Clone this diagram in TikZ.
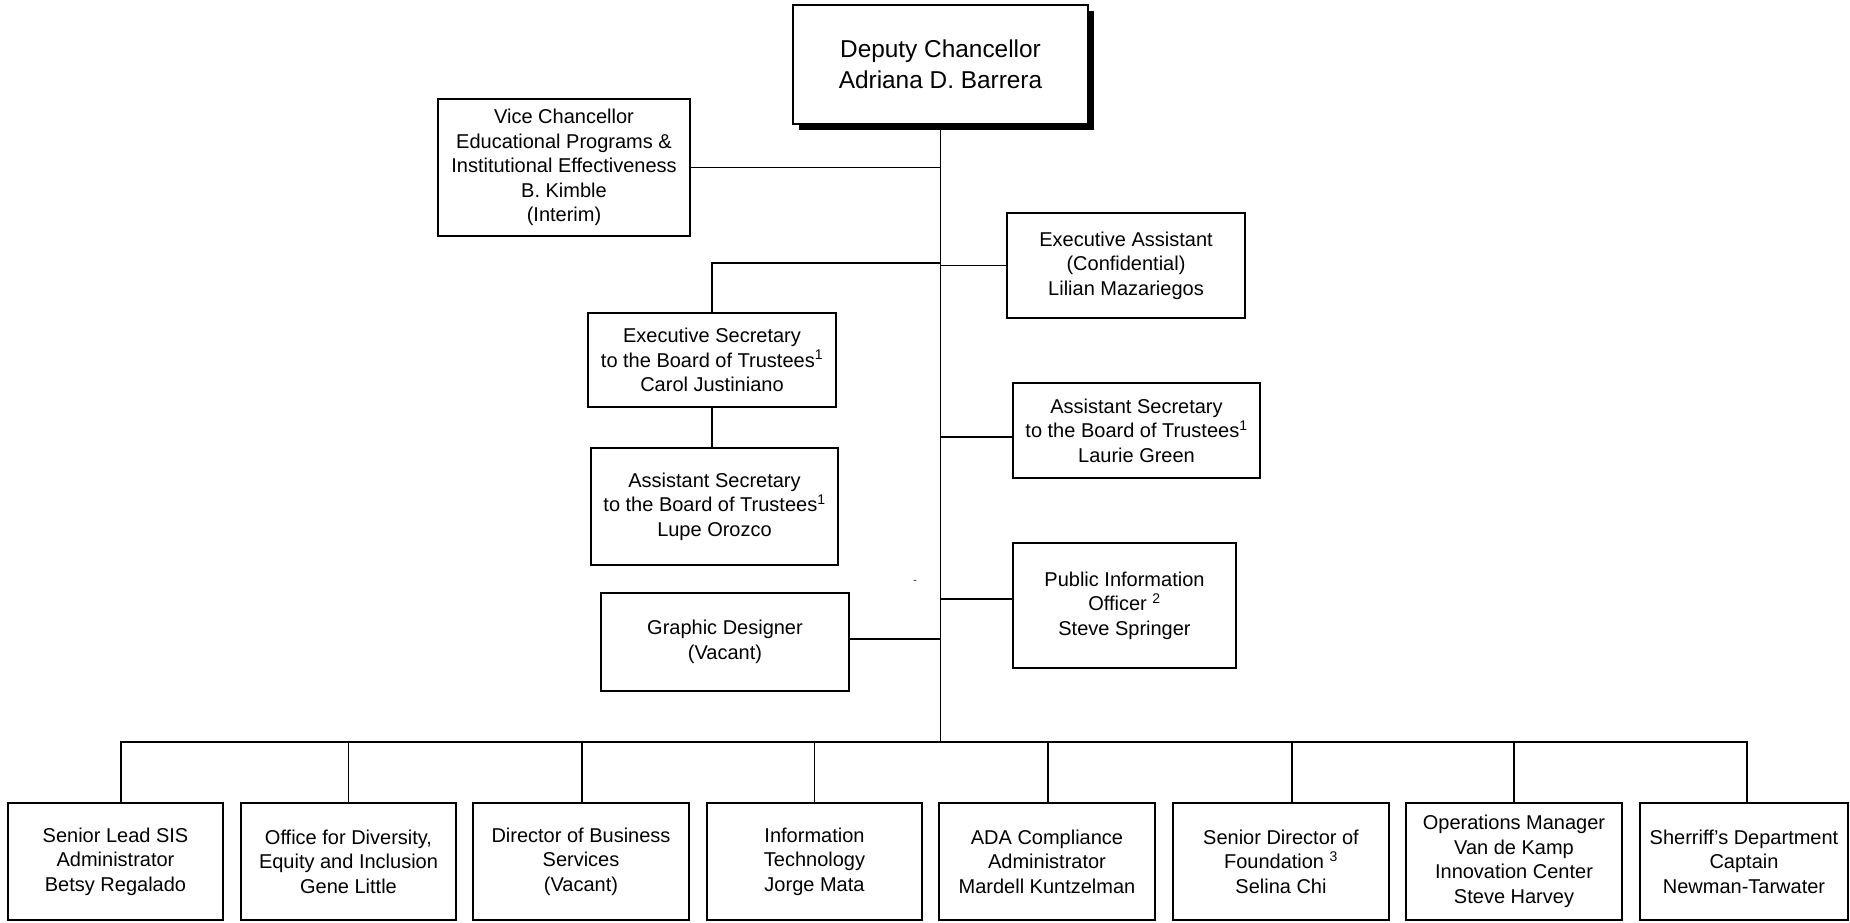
\documentclass[tikz,border=0pt]{standalone}
\usepackage{fontspec}
\setmainfont{Liberation Sans}
\begin{document}
\begin{tikzpicture}[x=1pt,y=-1pt,
  box/.style={draw=black, line width=1.5pt, fill=white, align=center, inner sep=0pt,
    font=\fontsize{20}{24.5}\selectfont},
  topbox/.style={box, font=\fontsize{24.4}{31}\selectfont},
  conn/.style={line width=1.5pt, line cap=rect}]
\path[use as bounding box, fill=white] (0,0) rectangle (1850,922);

% shadow of top box
\fill[black] (799,11) rectangle (1094,130);
\node[topbox, minimum width=295pt, minimum height=119pt] (top) at (940.5,64.5)
  {Deputy Chancellor\\Adriana D. Barrera};

\node[box, minimum width=252pt, minimum height=137pt] (vc) at (564,167.5)
  {Vice Chancellor\\Educational Programs \&\\Institutional Effectiveness\\B. Kimble\\(Interim)};
\node[box, minimum width=238pt, minimum height=105pt] (ea) at (1126,265.5)
  {Executive Assistant\\(Confidential)\\Lilian Mazariegos};
\node[box, minimum width=248pt, minimum height=94pt] (es) at (712,360)
  {Executive Secretary\\to the Board of Trustees\textsuperscript{1}\\Carol Justiniano};
\node[box, minimum width=247pt, minimum height=117pt] (lupe) at (714.5,506.5)
  {Assistant Secretary\\to the Board of Trustees\textsuperscript{1}\\Lupe Orozco};
\node[box, minimum width=247pt, minimum height=95pt] (laurie) at (1136.5,430.5)
  {Assistant Secretary\\to the Board of Trustees\textsuperscript{1}\\Laurie Green};
\node[box, minimum width=223pt, minimum height=125pt] (pio) at (1124.5,605.5)
  {Public Information\\Officer \textsuperscript{2}\\Steve Springer};
\node[box, minimum width=248pt, minimum height=98pt] (gd) at (725,642)
  {Graphic Designer\\(Vacant)};
\node[font=\fontsize{10}{12}\selectfont, inner sep=0pt] (dash) at (915,582) {-};

% bottom row
\node[box, minimum width=215pt, minimum height=117pt] (b1) at (115.5,861.5)
  {Senior Lead SIS\\Administrator\\Betsy Regalado};
\node[box, minimum width=215pt, minimum height=117pt] (b2) at (348.5,861.5)
  {Office for Diversity,\\Equity and Inclusion\\Gene Little};
\node[box, minimum width=216pt, minimum height=117pt] (b3) at (581,861.5)
  {Director of Business\\Services\\(Vacant)};
\node[box, minimum width=215pt, minimum height=117pt] (b4) at (814.5,861.5)
  {Information\\Technology\\Jorge Mata};
\node[box, minimum width=216pt, minimum height=117pt] (b5) at (1047,861.5)
  {ADA Compliance\\Administrator\\Mardell Kuntzelman};
\node[box, minimum width=216pt, minimum height=117pt] (b6) at (1281,861.5)
  {Senior Director of\\Foundation \textsuperscript{3}\\Selina Chi};
\node[box, minimum width=216pt, minimum height=117pt] (b7) at (1514,861.5)
  {Operations Manager\\Van de Kamp\\Innovation Center\\Steve Harvey};
\node[box, minimum width=208pt, minimum height=117pt] (b8) at (1744,861.5)
  {Sherriff’s Department\\Captain\\Newman-Tarwater};

% connectors
\coordinate (trunkB) at (940.5,742);
\coordinate (busL) at (121,742);
\coordinate (busR) at (1747,742);
\coordinate (jes) at (940.5,263);

\draw[conn] (top.south) -- (trunkB);
\draw[conn] (busL) -- (busR);
\draw[conn] (vc.east) -- (vc.east -| top.south);
\draw[conn] (es.north) |- (jes);
\draw[conn] (ea.west) -- (ea.west -| top.south);
\draw[conn] (es.south) -- (es.south |- lupe.north);
\draw[conn] ([yshift=-6.5pt]laurie.west) -- ([yshift=-6.5pt]laurie.west -| top.south);
\draw[conn] ([yshift=6.5pt]pio.west) -- ([yshift=6.5pt]pio.west -| top.south);
\draw[conn] ([yshift=3pt]gd.east) -- ([yshift=3pt]gd.east -| top.south);

\draw[conn] ([xshift=5.5pt]b1.north) -- ([xshift=5.5pt]b1.north |- busL);
\draw[conn] (b2.north) -- (b2.north |- busL);
\draw[conn] ([xshift=1pt]b3.north) -- ([xshift=1pt]b3.north |- busL);
\draw[conn] (b4.north) -- (b4.north |- busL);
\draw[conn] ([xshift=1pt]b5.north) -- ([xshift=1pt]b5.north |- busL);
\draw[conn] ([xshift=11pt]b6.north) -- ([xshift=11pt]b6.north |- busL);
\draw[conn] (b7.north) -- (b7.north |- busL);
\draw[conn] ([xshift=3pt]b8.north) -- ([xshift=3pt]b8.north |- busL);
\end{tikzpicture}
\end{document}
